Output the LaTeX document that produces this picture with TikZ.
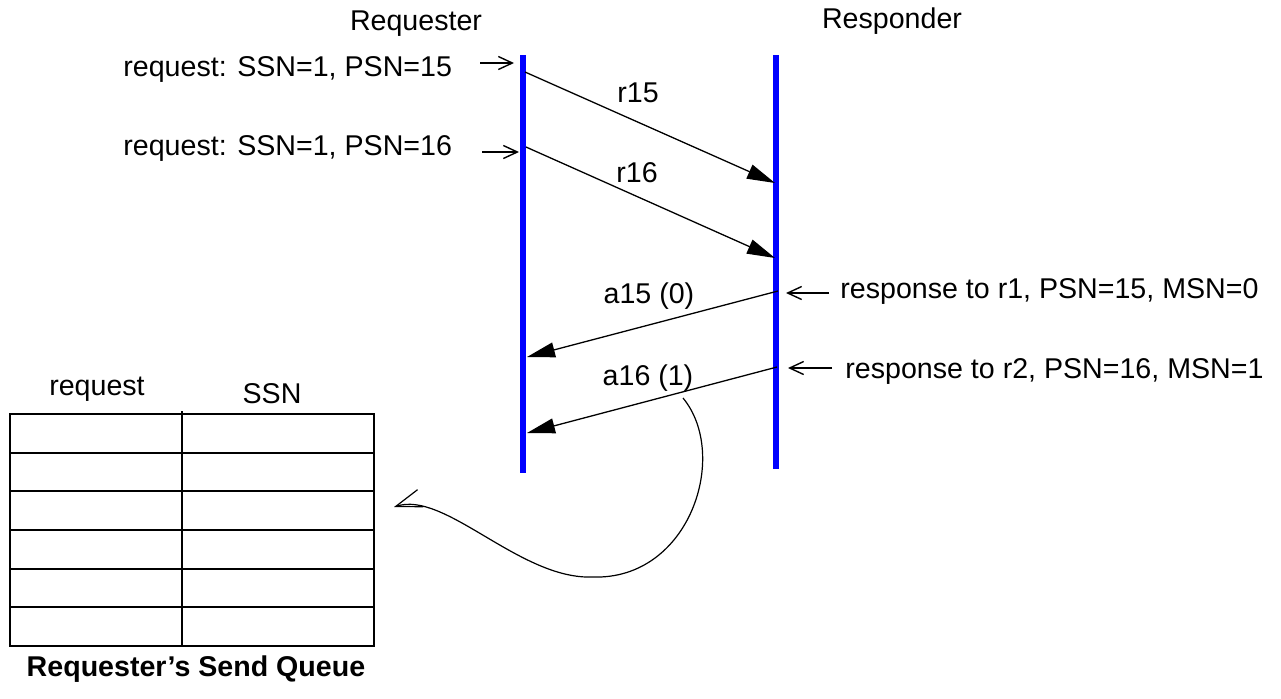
\documentclass[tikz,border=0pt]{standalone}
\usepackage{fontspec}
\setmainfont{Liberation Sans}
\usetikzlibrary{arrows.meta,positioning}

\begin{document}
\begin{tikzpicture}[
  x=0.5pt, y=-0.5pt,
  every node/.style={font=\fontsize{14.3}{17}\selectfont, inner sep=0pt},
  lifeline/.style={draw=blue, line width=3pt},
  msg/.style={-{Triangle[length=14pt, width=7.5pt]}, line width=0.65pt},
  note/.style={-{Straight Barb[length=7pt, width=6.5pt]}, line width=0.7pt},
  curve/.style={-{Straight Barb[length=13pt, width=9pt]}, line width=0.6pt},
  cell/.style={draw, line width=1.1pt},
  caption/.style={font=\fontsize{14.3}{17}\selectfont\bfseries},
]
  \useasboundingbox (0,0) rectangle (1281,698);

  % Lifelines
  \coordinate (reqtop) at (523,55);
  \coordinate (reqbot) at (523,473);
  \coordinate (rsptop) at (776,55);
  \coordinate (rspbot) at (776,469);
  \draw[lifeline] (reqtop) -- (reqbot);
  \draw[lifeline] (rsptop) -- (rspbot);
  \node[anchor=base] (requester) at (416,30) {Requester};
  \node[anchor=base] (responder) at (892,28) {Responder};

  % Requests
  \coordinate (r15s) at (525,72);
  \coordinate (r15e) at (775,183);
  \coordinate (r16s) at (526,147);
  \coordinate (r16e) at (775,258);
  \draw[msg] (r15s) -- (r15e);
  \draw[msg] (r16s) -- (r16e);
  \node[anchor=base] (r15) at (638,102) {r15};
  \node[anchor=base] (r16) at (637,182) {r16};

  % Responses
  \coordinate (a15s) at (778,291);
  \coordinate (a15e) at (527,357);
  \coordinate (a16s) at (777,367);
  \coordinate (a16e) at (527,433);
  \draw[msg] (a15s) -- (a15e);
  \draw[msg] (a16s) -- (a16e);
  \node[anchor=base] (a15) at (649,303) {a15 (0)};
  \node[anchor=base] (a16) at (648,385) {a16 (1)};

  % Side notes
  \node[anchor=base west] (req15) at (123,76) {request: SSN=1, PSN=15};
  \node[anchor=base west] (req16) at (123,155) {request: SSN=1, PSN=16};
  \coordinate (in15a) at (480,63);
  \coordinate (in15b) at (514,63);
  \coordinate (in16a) at (482,152);
  \coordinate (in16b) at (519,152);
  \draw[note] (in15a) -- (in15b);
  \draw[note] (in16a) -- (in16b);

  \node[anchor=base west] (rsp15) at (840,298) {response to r1, PSN=15, MSN=0};
  \node[anchor=base west] (rsp16) at (845,378) {response to r2, PSN=16, MSN=1};
  \coordinate (out15a) at (829,293);
  \coordinate (out15b) at (786,293);
  \coordinate (out16a) at (832,368);
  \coordinate (out16b) at (788,368);
  \draw[note] (out15a) -- (out15b);
  \draw[note] (out16a) -- (out16b);

  % Send queue
  \node[anchor=base] (colreq) at (97,395) {request};
  \node[anchor=base] (colssn) at (272,403) {SSN};
  \foreach \i in {0,...,5} {
    \draw[cell] (10,{414+38.67*\i}) rectangle (182,{414+38.67*(\i+1)});
    \draw[cell] (182,{414+38.67*\i}) rectangle (374,{414+38.67*(\i+1)});
  }
  \draw[cell] (182,411) -- (182,414);
  \node[caption, anchor=base] (sendq) at (196,676) {Requester’s Send Queue};

  % a16 goes to the queue
  \coordinate (loopstart) at (683,398);
  \coordinate (loopbot) at (593,577);
  \coordinate (queue) at (394,507);
  \draw[curve] (loopstart) .. controls (730,455) and (690,580) .. (loopbot)
    .. controls (520,580) and (445,490) .. (queue);
\end{tikzpicture}
\end{document}
